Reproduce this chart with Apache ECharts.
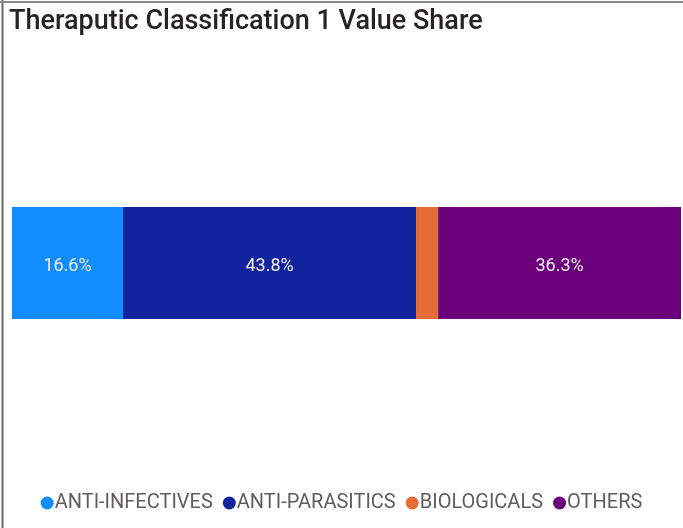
<!DOCTYPE html>
<html>
<head>
<meta charset="utf-8">
<script src="https://cdn.jsdelivr.net/npm/echarts@6/dist/echarts.min.js"></script>
<style>
  html, body { margin: 0; padding: 0; background: #fff; }
  #chart { width: 683px; height: 528px; }
</style>
</head>
<body>
<div id="chart"></div>
<script>
// 数据
var categories = ['ANTI-INFECTIVES', 'ANTI-PARASITICS', 'BIOLOGICALS', 'OTHERS'];
var shares = [16.6, 43.8, 3.3, 36.3];
var colors = ['#118DFF', '#12239E', '#E66C37', '#6B007B'];

var chart = echarts.init(document.getElementById('chart'));

var series = categories.map(function (name, i) {
  return {
    name: name,
    type: 'bar',
    stack: 'total',
    barWidth: '100%',
    data: [shares[i]],
    itemStyle: { color: colors[i] },
    label: {
      show: shares[i] > 5,
      position: 'inside',
      offset: [0, 3],
      formatter: function (p) { return p.value.toFixed(1) + '%'; },
      color: '#f4eefa',
      fontFamily: 'Roboto',
      fontSize: 18
    }
  };
});

var option = {
  animation: false,
  title: {
    text: 'Theraputic Classification 1 Value Share',
    left: 4,
    top: 4,
    textStyle: { fontFamily: 'Roboto', fontSize: 27, fontWeight: 500, color: '#252423' }
  },
  // 图例
  legend: {
    data: categories,
    bottom: 10,
    left: 'center',
    icon: 'circle',
    itemWidth: 13,
    itemHeight: 13,
    itemGap: 10,
    textStyle: { fontFamily: 'Roboto', fontSize: 20, color: '#605E5C', padding: [0, 0, 0, -4] }
  },
  grid: { left: 12, right: 2, top: 207, height: 112 },
  xAxis: { type: 'value', min: 0, max: 100, show: false },
  yAxis: { type: 'category', data: ['share'], show: false },
  series: series,
  graphic: [
    { type: 'line', shape: { x1: 2.5, y1: 0, x2: 2.5, y2: 528 }, style: { stroke: '#6b6b6b', lineWidth: 2 } },
    { type: 'line', shape: { x1: 0, y1: 2, x2: 683, y2: 2 }, style: { stroke: '#8a8a8a', lineWidth: 2 } }
  ]
};

chart.setOption(option);
</script>
</body>
</html>
